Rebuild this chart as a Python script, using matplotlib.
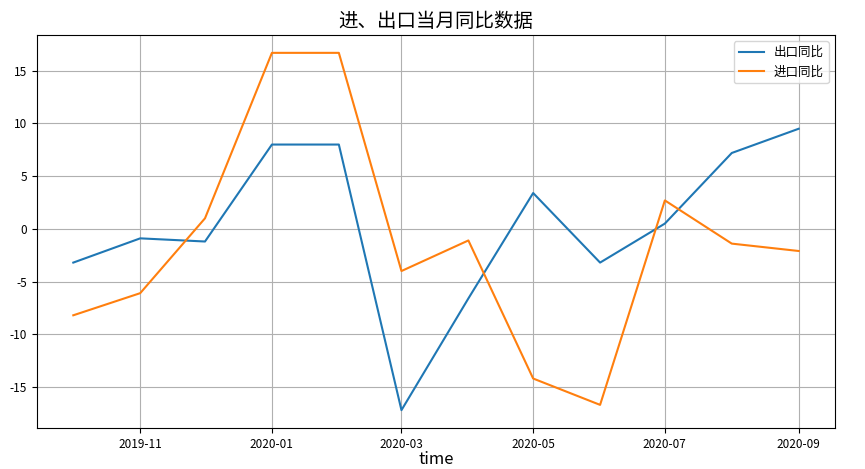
import pandas as pd
import matplotlib
matplotlib.use('Agg')
import matplotlib.pyplot as plt
import matplotlib.dates as mdates

plt.rcParams['font.family'] = ['Noto Sans CJK SC', 'DejaVu Sans']
plt.rcParams['axes.unicode_minus'] = False

# 月份
meses = ['2019-10', '2019-11', '2019-12', '2020-01', '2020-02', '2020-03',
         '2020-04', '2020-05', '2020-06', '2020-07', '2020-08', '2020-09']
# 出口同比
chukou = [-3.2, -0.9, -1.2, 8.0, 8.0, -17.2, -6.6, 3.4, -3.2, 0.5, 7.2, 9.5]
# 进口同比
jinkou = [-8.2, -6.1, 1.0, 16.7, 16.7, -4.0, -1.1, -14.2, -16.7, 2.7, -1.4, -2.1]

df = pd.DataFrame({'time': pd.to_datetime(meses), '出口同比': chukou, '进口同比': jinkou})

fig = plt.figure(figsize=(8.65, 4.69), dpi=100)
ax = fig.add_axes([0.0428, 0.0874, 0.9225, 0.838])

ax.plot(df['time'], df['出口同比'], color='#1f77b4', label='出口同比')
ax.plot(df['time'], df['进口同比'], color='#ff7f0e', label='进口同比')

ax.xaxis.set_major_locator(mdates.MonthLocator(interval=2))
ax.xaxis.set_major_formatter(mdates.DateFormatter('%Y-%m'))
ax.tick_params(labelsize=8.5)

ax.grid(True, color='#b0b0b0', linewidth=0.8)
ax.set_title('进、出口当月同比数据', fontsize=14)
ax.set_xlabel('time', fontsize=12, labelpad=0)
ax.set_ylabel('%', fontsize=12)
ax.legend(loc='upper right', fontsize=9)

fig.savefig('out.png', dpi=100)
